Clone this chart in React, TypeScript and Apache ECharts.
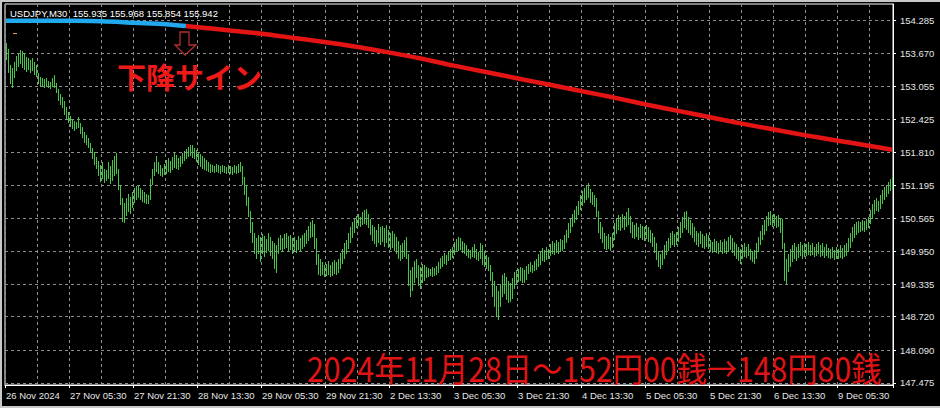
import React, { useEffect, useRef } from 'react';
import * as echarts from 'echarts';

// ---- data ----
const timeLabels = [
  '26 Nov 2024', '27 Nov 05:30', '27 Nov 21:30', '28 Nov 13:30', '29 Nov 05:30',
  '29 Nov 21:30', '2 Dec 13:30', '3 Dec 05:30', '3 Dec 21:30', '4 Dec 13:30',
  '5 Dec 05:30', '5 Dec 21:30', '6 Dec 13:30', '9 Dec 05:30',
];

const yTickValues = [147.475, 148.09, 148.72, 149.335, 149.95, 150.565, 151.195, 151.81, 152.425, 153.055, 153.67, 154.285];

const barHighs = [
  153.87,153.75,153.45,153.40,153.50,153.62,153.68,153.74,153.72,153.66,153.60,153.58,153.55,153.58,153.50,153.46,
  153.30,153.22,153.20,153.18,153.20,153.16,153.14,153.20,153.26,153.12,153.00,152.90,152.86,152.78,152.66,152.56,
  152.50,152.44,152.40,152.38,152.47,152.36,152.28,152.20,152.14,152.08,151.98,151.90,151.82,151.72,151.64,151.58,
  151.62,151.50,151.48,151.62,151.56,151.66,151.74,151.80,151.50,151.20,150.95,150.86,150.96,151.02,150.98,151.06,
  151.14,151.18,151.20,151.14,151.10,151.06,151.02,151.00,151.30,151.50,151.62,151.74,151.62,151.58,151.52,151.60,
  151.66,151.70,151.64,151.72,151.80,151.76,151.70,151.74,151.80,151.84,151.88,151.92,151.95,151.94,151.90,151.86,
  151.82,151.78,151.74,151.70,151.66,151.62,151.60,151.58,151.56,151.60,151.58,151.56,151.58,151.56,151.54,151.58,
  151.56,151.54,151.58,151.56,151.60,151.62,151.56,151.34,151.20,150.98,150.70,150.50,150.30,150.20,150.26,150.22,
  150.28,150.24,150.18,150.30,150.22,150.14,150.10,150.06,150.20,150.26,150.20,150.28,150.30,150.24,150.26,150.20,
  150.22,150.16,150.24,150.20,150.26,150.30,150.36,150.42,150.50,150.54,150.46,150.20,149.90,149.80,149.74,149.70,
  149.72,149.76,149.70,149.74,149.78,149.74,149.80,149.92,150.00,150.10,150.16,150.30,150.40,150.50,150.56,150.62,
  150.66,150.60,150.68,150.72,150.74,150.66,150.56,150.44,150.40,150.36,150.46,150.40,150.42,150.38,150.44,150.36,
  150.30,150.34,150.28,150.22,150.14,150.06,150.10,150.16,150.22,149.90,149.60,149.66,149.76,149.80,149.70,149.66,
  149.72,149.70,149.66,149.64,149.62,149.66,149.64,149.68,149.74,149.82,149.86,149.92,149.88,149.96,150.00,150.04,
  150.12,150.18,150.22,150.20,150.14,150.10,150.06,150.00,149.98,150.04,150.08,150.00,149.94,150.10,150.06,149.96,
  149.88,149.84,149.70,149.56,149.40,149.30,149.20,149.34,149.50,149.54,149.46,149.40,149.36,149.44,149.56,149.60,
  149.62,149.66,149.64,149.60,149.68,149.72,149.74,149.70,149.76,149.80,149.90,149.96,150.02,149.98,150.04,150.00,
  150.08,150.14,150.10,150.16,150.12,150.18,150.16,150.26,150.36,150.48,150.58,150.66,150.72,150.80,150.90,151.00,
  151.08,151.14,151.20,151.24,151.12,151.06,151.00,150.96,150.70,150.50,150.40,150.30,150.24,150.28,150.22,150.30,
  150.48,150.58,150.64,150.60,150.66,150.62,150.68,150.76,150.62,150.50,150.44,150.48,150.40,150.46,150.42,150.40,
  150.44,150.40,150.36,150.30,150.22,150.10,149.96,149.90,149.98,150.06,150.14,150.20,150.30,150.34,150.28,150.32,
  150.40,150.50,150.60,150.68,150.70,150.60,150.54,150.48,150.40,150.34,150.30,150.34,150.28,150.24,150.30,150.26,
  150.16,150.12,150.18,150.14,150.10,150.16,150.12,150.18,150.14,150.22,150.26,150.20,150.12,150.08,150.04,150.00,
  150.06,150.10,150.04,150.08,150.00,149.96,149.98,150.10,150.22,150.34,150.44,150.54,150.62,150.68,150.70,150.64,
  150.66,150.62,150.64,150.58,150.56,150.10,149.80,149.90,150.00,150.06,150.10,150.04,150.08,150.12,150.06,150.10,
  150.08,150.12,150.06,150.10,150.04,150.08,150.12,150.06,150.10,150.04,150.08,150.02,150.00,150.04,149.98,150.04,
  150.00,150.06,150.02,150.06,150.10,150.20,150.30,150.40,150.46,150.50,150.52,150.50,150.54,150.52,150.56,150.60,
  150.72,150.84,150.92,150.96,150.90,151.00,151.10,151.16,151.20,151.26,151.30,151.35,
];

const barLows = [
  153.55,153.30,153.10,153.02,153.20,153.34,153.42,153.48,153.40,153.36,153.32,153.36,153.30,153.34,153.26,153.22,
  153.10,153.04,153.06,153.02,153.04,153.02,153.00,153.04,153.02,152.92,152.78,152.70,152.64,152.52,152.42,152.36,
  152.28,152.24,152.22,152.24,152.26,152.16,152.08,151.98,151.94,151.90,151.80,151.68,151.58,151.50,151.36,151.26,
  151.30,151.24,151.28,151.30,151.22,151.28,151.36,151.40,151.10,150.82,150.50,150.48,150.62,150.68,150.66,150.76,
  150.86,150.92,150.96,150.92,150.88,150.86,150.84,150.84,150.92,151.20,151.36,151.44,151.40,151.36,151.34,151.38,
  151.40,151.44,151.42,151.48,151.52,151.50,151.48,151.54,151.60,151.64,151.68,151.72,151.74,151.70,151.68,151.62,
  151.58,151.54,151.50,151.48,151.46,151.44,151.42,151.44,151.42,151.44,151.42,151.40,151.44,151.42,151.40,151.42,
  151.40,151.38,151.42,151.40,151.42,151.44,151.20,151.00,150.80,150.60,150.30,150.10,149.90,149.80,149.90,149.74,
  149.90,149.84,149.92,149.96,149.86,149.80,149.62,149.55,149.90,149.98,149.94,150.00,150.02,149.96,149.98,149.90,
  149.96,149.92,149.98,149.94,150.00,150.04,150.08,150.14,150.20,150.22,150.00,149.70,149.50,149.48,149.50,149.46,
  149.48,149.50,149.46,149.48,149.52,149.50,149.54,149.62,149.72,149.80,149.90,150.00,150.10,150.20,150.30,150.38,
  150.42,150.40,150.44,150.46,150.44,150.38,150.26,150.14,150.08,150.04,150.10,150.06,150.12,150.04,150.10,150.02,
  149.98,150.02,149.96,149.90,149.80,149.76,149.80,149.84,149.80,149.30,149.09,149.20,149.36,149.44,149.30,149.24,
  149.36,149.40,149.44,149.46,149.48,149.46,149.48,149.50,149.54,149.62,149.66,149.72,149.70,149.76,149.78,149.82,
  149.88,149.94,149.96,149.98,149.92,149.90,149.86,149.82,149.80,149.84,149.82,149.78,149.76,149.80,149.70,149.66,
  149.62,149.58,149.40,149.10,148.90,148.72,148.66,148.90,149.10,149.14,149.04,148.98,149.00,149.06,149.24,149.34,
  149.38,149.40,149.36,149.36,149.42,149.52,149.56,149.54,149.58,149.60,149.66,149.70,149.76,149.74,149.78,149.80,
  149.86,149.90,149.88,149.92,149.90,149.94,149.96,150.00,150.10,150.20,150.30,150.40,150.48,150.54,150.64,150.72,
  150.80,150.86,150.92,150.96,150.86,150.82,150.78,150.60,150.30,150.18,150.10,150.00,149.98,150.00,149.96,150.02,
  150.16,150.28,150.36,150.34,150.38,150.36,150.40,150.44,150.30,150.20,150.18,150.22,150.16,150.20,150.16,150.14,
  150.18,150.12,150.10,150.04,149.92,149.78,149.66,149.62,149.70,149.80,149.88,149.96,150.02,150.06,150.04,150.06,
  150.12,150.20,150.30,150.38,150.36,150.30,150.26,150.20,150.12,150.06,150.04,150.08,150.02,150.00,150.04,150.00,
  149.94,149.92,149.96,149.92,149.90,149.94,149.90,149.92,149.90,149.94,149.98,149.92,149.86,149.80,149.76,149.72,
  149.80,149.84,149.82,149.86,149.78,149.74,149.72,149.80,149.94,150.06,150.16,150.26,150.34,150.42,150.44,150.40,
  150.42,150.38,150.40,150.30,150.00,149.40,149.34,149.56,149.66,149.74,149.80,149.76,149.82,149.86,149.80,149.84,
  149.86,149.88,149.86,149.88,149.84,149.86,149.90,149.84,149.86,149.82,149.86,149.82,149.80,149.82,149.78,149.80,
  149.80,149.82,149.80,149.84,149.86,149.94,150.02,150.12,150.20,150.26,150.30,150.32,150.34,150.32,150.36,150.38,
  150.46,150.56,150.66,150.70,150.68,150.74,150.84,150.92,150.98,151.02,151.08,151.12,
];

// moving average read at sampled bars
const maIndex = [0, 16, 32, 48, 64, 80, 90, 96, 112, 128, 144, 160, 176, 192, 208, 224, 240, 256, 272, 288, 304, 320, 336, 352, 368, 384, 400, 416, 432, 443];
const maValues = [154.285, 154.285, 154.283, 154.275, 154.247, 154.22, 154.185, 154.164, 154.10, 154.04, 153.96, 153.88, 153.79, 153.685, 153.57, 153.44, 153.32, 153.20, 153.08, 152.96, 152.84, 152.71, 152.59, 152.47, 152.35, 152.24, 152.13, 152.03, 151.93, 151.86];
const signIndex = 90; // where the MA turns from up (blue) to down (red)

const titleText = 'USDJPY,M30  155.935 155.968 155.854 155.942';
const signText = '下降サイン';
const noteText = '2024年11月28日～152円00銭→148円80銭';

const Y_MIN = 147.437;
const Y_MAX = 154.599;

const LABEL_FONT = '"Liberation Sans", Arial, sans-serif';
const CJK_FONT = '"Noto Sans CJK JP", "Noto Sans", sans-serif';
const LABEL_COLOR = '#e6e6e6';
const GRID_COLOR = '#8e8e8e';
const BAR_COLOR = '#45c845';

export default function App() {
  const ref = useRef<HTMLDivElement>(null);

  useEffect(() => {
    document.body.style.margin = '0';
    document.body.style.background = '#000';
    if (!ref.current) return;
    const chart = echarts.init(ref.current, undefined, { renderer: 'svg' });

    const categories = barHighs.map((_, i) => String(i));
    const bars = barHighs.map((h, i) => [i, barLows[i], h]);
    const maUp: number[][] = [];
    const maDown: number[][] = [];
    maIndex.forEach((idx, k) => {
      if (idx <= signIndex) maUp.push([idx, maValues[k]]);
      if (idx >= signIndex) maDown.push([idx, maValues[k]]);
    });

    chart.setOption({
      animation: false,
      backgroundColor: '#000000',
      grid: {
        left: 5, right: 47, top: 4, bottom: 23,
        show: true, borderColor: '#ffffff', borderWidth: 1,
        containLabel: false, outerBoundsMode: 'none',
      },
      xAxis: {
        type: 'category',
        data: categories,
        boundaryGap: true,
        axisLine: { show: true, lineStyle: { color: '#ffffff', width: 1 } },
        axisTick: { show: true, interval: 31, length: 3, lineStyle: { color: '#ffffff' } },
        axisLabel: {
          interval: 31,
          align: 'left',
          margin: 5,
          color: LABEL_COLOR,
          fontFamily: LABEL_FONT,
          fontSize: 9.5,
          formatter: (_v: string, idx: number) => (idx % 32 === 0 ? timeLabels[idx / 32] ?? '' : ''),
        },
        splitLine: { show: true, interval: 15, lineStyle: { color: GRID_COLOR, width: 1, type: [3, 3] } },
      },
      yAxis: {
        type: 'value',
        position: 'right',
        min: Y_MIN,
        max: Y_MAX,
        axisLine: { show: true, lineStyle: { color: '#ffffff', width: 1 } },
        axisTick: { show: true, inside: false, length: 3, customValues: yTickValues, lineStyle: { color: '#ffffff' } },
        axisLabel: {
          customValues: yTickValues,
          margin: 7,
          color: LABEL_COLOR,
          fontFamily: LABEL_FONT,
          fontSize: 9.5,
          formatter: (v: number) => v.toFixed(3),
        },
        splitLine: { show: true, lineStyle: { color: GRID_COLOR, width: 1, type: [3, 3] } },
      },
      series: [
        {
          type: 'custom',
          name: 'bars',
          data: bars,
          encode: { x: 0, y: [1, 2] },
          clip: true,
          silent: true,
          progressive: 0,
          emphasis: { disabled: true },
          itemStyle: { color: BAR_COLOR },
          renderItem: (_params: any, api: any) => {
            const i = api.value(0);
            const lo = api.value(1);
            const hi = api.value(2);
            const a = api.coord([i, lo]);
            const b = api.coord([i, hi]);
            const x = Math.round(a[0]);
            const top = Math.round(b[1]);
            const h = Math.max(1, Math.round(a[1]) - top);
            return {
              type: 'rect',
              shape: { x, y: top, width: 1, height: h },
              style: { fill: BAR_COLOR, stroke: null },
            };
          },
        },
        {
          type: 'line',
          name: 'MA up',
          data: maUp,
          showSymbol: false,
          smooth: 0.3,
          silent: true,
          lineStyle: { color: '#22a8ec', width: 4.5 },
          z: 5,
        },
        {
          type: 'line',
          name: 'MA down',
          data: maDown,
          showSymbol: false,
          smooth: 0.3,
          silent: true,
          lineStyle: { color: '#e41414', width: 4.5 },
          z: 5,
        },
      ],
      graphic: [
        { type: 'rect', shape: { x: 0, y: 0, width: 940, height: 2 }, style: { fill: '#c8c8c8' }, silent: true },
        { type: 'rect', shape: { x: 0, y: 0, width: 2, height: 408 }, style: { fill: '#c8c8c8' }, silent: true },
        { type: 'rect', shape: { x: 0, y: 406, width: 940, height: 2 }, style: { fill: '#c8c8c8' }, silent: true },
        {
          type: 'text', x: 10, y: 13, silent: true, z: 10,
          style: { text: titleText, fill: '#ffffff', font: `9.5px ${LABEL_FONT}`, textAlign: 'left', textVerticalAlign: 'middle' },
        },
        { type: 'rect', shape: { x: 13, y: 33, width: 4, height: 1 }, style: { fill: '#e0a040' }, silent: true },
        {
          type: 'polygon', silent: true, z: 10,
          shape: { points: [[180, 32], [189, 32], [189, 45], [196, 45], [185, 55], [175, 45], [180, 45]] },
          style: { fill: 'none', stroke: '#b03030', lineWidth: 1.3 },
        },
        {
          type: 'text', x: 117, y: 76, silent: true, z: 10,
          style: { text: signText, fill: '#ee1a1a', font: `bold 29px ${CJK_FONT}`, textAlign: 'left', textVerticalAlign: 'middle' },
        },
        {
          type: 'text', x: 307, y: 367, scaleX: 0.89, silent: true, z: 10,
          style: { text: noteText, fill: '#e01414', font: `34px ${CJK_FONT}`, textAlign: 'left', textVerticalAlign: 'middle' },
        },
      ],
    });

    return () => chart.dispose();
  }, []);

  return <div ref={ref} style={{ width: 940, height: 408, background: '#000' }} />;
}
